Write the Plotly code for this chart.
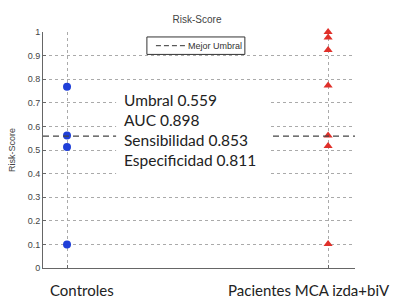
import plotly.graph_objects as go

categories = ["Controles", "Pacientes MCA izda+biV"]
cat_pos = [1, 2]
controles = [0.768, 0.561, 0.513, 0.100]
pacientes = [1.0, 0.977, 0.924, 0.773, 0.561, 0.517, 0.102]
umbral = 0.559
umbral_name = "Mejor Umbral"
stats_labels = ["Umbral", "AUC", "Sensibilidad", "Especificidad"]
stats_values = [0.559, 0.898, 0.853, 0.811]
ytick_vals = [0, 0.1, 0.2, 0.3, 0.4, 0.5, 0.6, 0.7, 0.8, 0.9, 1]
ytick_text = ["0", "0.1", "0.2", "0.3", "0.4", "0.5", "0.6", "0.7", "0.8", "0.9", "1"]

XR = [0.908, 2.103]
W, H = 389, 296  # page body has an 8px margin
L, T, PW, PH = 35, 24, 312, 236

fig = go.Figure()
fig.add_trace(go.Scatter(
    x=[cat_pos[0]] * len(controles), y=controles, mode="markers", cliponaxis=False,
    marker=dict(symbol="circle", size=8, color="#1f3fd8"), showlegend=False))
fig.add_trace(go.Scatter(
    x=[cat_pos[1]] * len(pacientes), y=pacientes, mode="markers", cliponaxis=False,
    marker=dict(symbol="triangle-up", size=8, color="#e0302a"), showlegend=False))
fig.add_trace(go.Scatter(
    x=XR, y=[umbral, umbral], mode="lines", name=umbral_name,
    line=dict(color="#444", width=1.2, dash="6px,4px"), showlegend=False))

# white box behind the statistics text
fig.add_shape(type="rect", xref="x", yref="y", x0=1.188, x1=1.778, y0=0.35, y1=0.77,
              fillcolor="white", line=dict(width=0), layer="above")

# legend box (MATLAB style, compact)
fig.add_shape(type="rect", xref="paper", yref="paper", x0=0.333, x1=0.647, y0=0.905, y1=0.979,
              fillcolor="white", line=dict(color="#333", width=1), layer="above")
fig.add_shape(type="line", xref="paper", yref="paper", x0=0.362, x1=0.455, y0=0.942, y1=0.942,
              line=dict(color="#333", width=1, dash="5px,3px"), layer="above")
fig.add_annotation(x=0.457, y=0.942, xref="paper", yref="paper", text=umbral_name,
                   xanchor="left", yanchor="middle", showarrow=False,
                   font=dict(family="Liberation Sans", size=9, color="#333"))

stats_text = "<br>".join(f"{l} {v:.3f}" for l, v in zip(stats_labels, stats_values))
fig.add_annotation(x=1.212, y=0.583, xref="x", yref="y", text=stats_text,
                   xanchor="left", yanchor="middle", align="left", showarrow=False,
                   font=dict(family="Lato", size=15.5, color="#222"))

for c, xc in zip(categories, [82, 309]):
    fig.add_annotation(x=(xc - 43) / PW, y=-0.093, xref="paper", yref="paper", text=c,
                       xanchor="center", yanchor="middle", showarrow=False,
                       font=dict(family="Lato", size=15, color="#222"))

fig.add_annotation(x=-31 / PW, y=0.5, xref="paper", yref="paper", text="Risk-Score",
                   textangle=-90, xanchor="center", yanchor="middle", showarrow=False,
                   font=dict(family="Liberation Sans", size=9, color="#444"))

fig.update_layout(
    width=W, height=H,
    margin=dict(l=L, r=W - L - PW, t=T, b=H - T - PH),
    paper_bgcolor="white", plot_bgcolor="white",
    showlegend=False,
    title=dict(text="Risk-Score", x=189 / W, xanchor="center", y=1 - 11 / H, yanchor="middle",
               font=dict(family="Liberation Sans", size=10, color="#444")),
    xaxis=dict(range=XR, tickvals=cat_pos, showticklabels=False, showgrid=True, automargin=False,
               gridcolor="#aaa", griddash="dot", gridwidth=1, zeroline=False,
               showline=True, linecolor="#666", linewidth=1, ticks="inside", ticklen=3,
               tickcolor="#666"),
    yaxis=dict(range=[0, 1], tickvals=ytick_vals, ticktext=ytick_text, showgrid=True, automargin=False,
               gridcolor="#aaa", griddash="dot", gridwidth=1, zeroline=False,
               showline=True, linecolor="#666", linewidth=1, ticks="inside", ticklen=3,
               tickcolor="#666",
               tickfont=dict(family="Liberation Sans", size=9, color="#444")),
)

fig.write_html("out.html")
